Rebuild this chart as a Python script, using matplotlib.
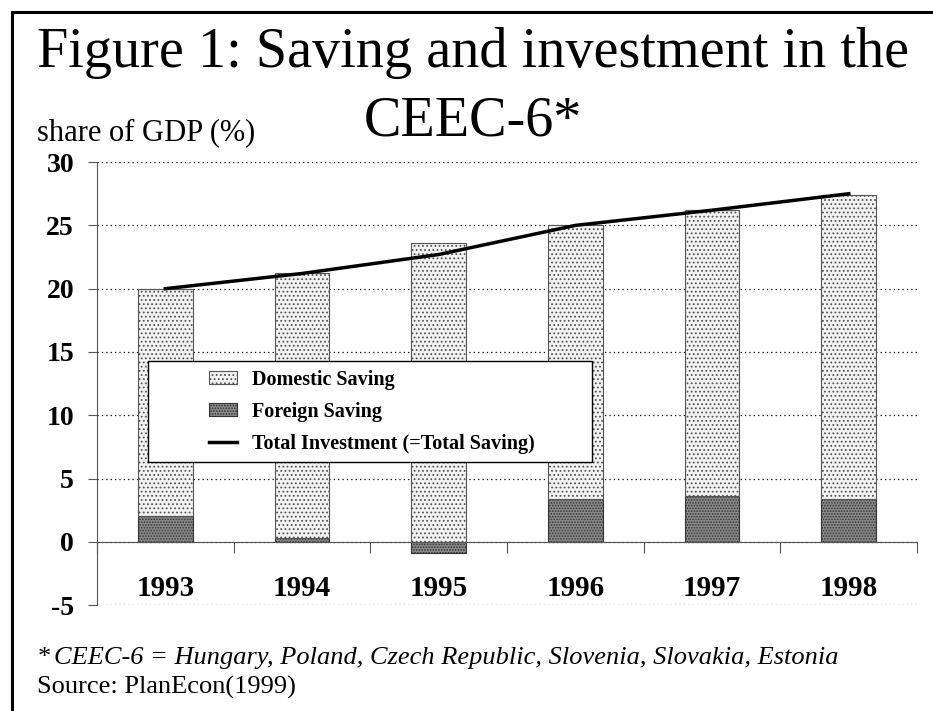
import matplotlib
matplotlib.use("Agg")
import matplotlib.pyplot as plt
import numpy as np
from matplotlib.patches import Patch, Rectangle
from matplotlib.lines import Line2D

# --- data (share of GDP, %) ---
years = ["1993", "1994", "1995", "1996", "1997", "1998"]
foreign_saving = [2.0, 0.3, -0.9, 3.4, 3.6, 3.4]
domestic_saving = [18.0, 20.9, 23.6, 21.6, 22.6, 24.0]
total_investment = [20.0, 21.2, 22.7, 25.0, 26.2, 27.5]
y_ticks = [-5, 0, 5, 10, 15, 20, 25, 30]

plt.rcParams['font.family'] = ['Liberation Serif', 'DejaVu Serif']
plt.rcParams['hatch.linewidth'] = 0.8

fig = plt.figure(figsize=(9.33, 7.11), dpi=100)
ax = fig.add_axes([0.104, 0.149, 0.879, 0.623])

x = np.arange(len(years))
dom_bottom = [max(f, 0) for f in foreign_saving]

ax.bar(x, foreign_saving, width=0.4, facecolor='#8a8a8a', edgecolor='#333333',
       hatch='......', linewidth=0.8, zorder=2)
ax.bar(x, domestic_saving, width=0.4, bottom=dom_bottom, facecolor='#f2f2f2',
       edgecolor='#555555', hatch='....', linewidth=0.8, zorder=2)
ax.plot(x, total_investment, color='black', linewidth=2.5, zorder=3)

# axes formatting
ax.set_xlim(-0.5, 5.5)
ax.set_ylim(-5, 30)
ax.set_yticks(y_ticks)
ax.set_yticklabels([str(v) for v in y_ticks], fontsize=20, fontweight='bold')
ax.yaxis.grid(True, linestyle=(0, (1, 2.5)), color='black', linewidth=0.9, zorder=1)
ax.set_axisbelow(True)

for s in ['top', 'right']:
    ax.spines[s].set_visible(False)
ax.spines['left'].set_color('#555555')
ax.spines['bottom'].set_position(('data', 0))
ax.spines['bottom'].set_color('#555555')
ax.spines['bottom'].set_zorder(4)

ax.set_xticks(np.arange(-0.5, 6.0, 1.0))
ax.set_xticklabels([])
ax.set_xticks(x, minor=True)
ax.set_xticklabels(years, minor=True, fontsize=21, fontweight='bold')
ax.tick_params(axis='x', which='major', direction='out', length=8, color='#555555')
ax.tick_params(axis='x', which='minor', length=0, pad=24)
ax.tick_params(axis='y', direction='out', length=6.5, color='#555555', pad=10)

# legend with its own box
ax.add_patch(Rectangle((0.062, 0.323), 0.542, 0.228, transform=ax.transAxes,
                       facecolor='white', edgecolor='black', linewidth=1.0, zorder=4))
handles = [
    Patch(facecolor='#f2f2f2', edgecolor='#555555', hatch='....', linewidth=0.8, label='Domestic Saving'),
    Patch(facecolor='#8a8a8a', edgecolor='#333333', hatch='......', linewidth=0.8, label='Foreign Saving'),
    Line2D([0], [0], color='black', linewidth=2.5, label='Total Investment (=Total Saving)'),
]
leg = ax.legend(handles=handles, loc='center', bbox_to_anchor=(0.335, 0.436),
                frameon=False, prop={'weight': 'bold', 'size': 14.5},
                handlelength=1.4, handleheight=0.6, handletextpad=0.75, labelspacing=0.6)
leg.set_zorder(5)

# titles and notes
fig.text(0.507, 0.906, "Figure 1: Saving and investment in the", ha='center', va='baseline', fontsize=40.5)
fig.text(0.507, 0.809, "CEEC-6*", ha='center', va='baseline', fontsize=40.5)
fig.text(0.040, 0.803, "share of GDP (%)", ha='left', va='baseline', fontsize=22)
fig.text(0.040, 0.066, "*", ha='left', va='baseline', fontsize=19)
fig.text(0.058, 0.066, "CEEC-6 = Hungary, Poland, Czech Republic, Slovenia, Slovakia, Estonia",
         ha='left', va='baseline', fontsize=19, style='italic')
fig.text(0.040, 0.024, "Source: PlanEcon(1999)", ha='left', va='baseline', fontsize=19)

# outer frame (left and top edges visible)
fig.add_artist(Rectangle((12 / 933, -0.1), 1.2, 1.1 - 12 / 711, transform=fig.transFigure,
                         facecolor='none', edgecolor='black', linewidth=2.2))

fig.savefig("out.png", dpi=100)
